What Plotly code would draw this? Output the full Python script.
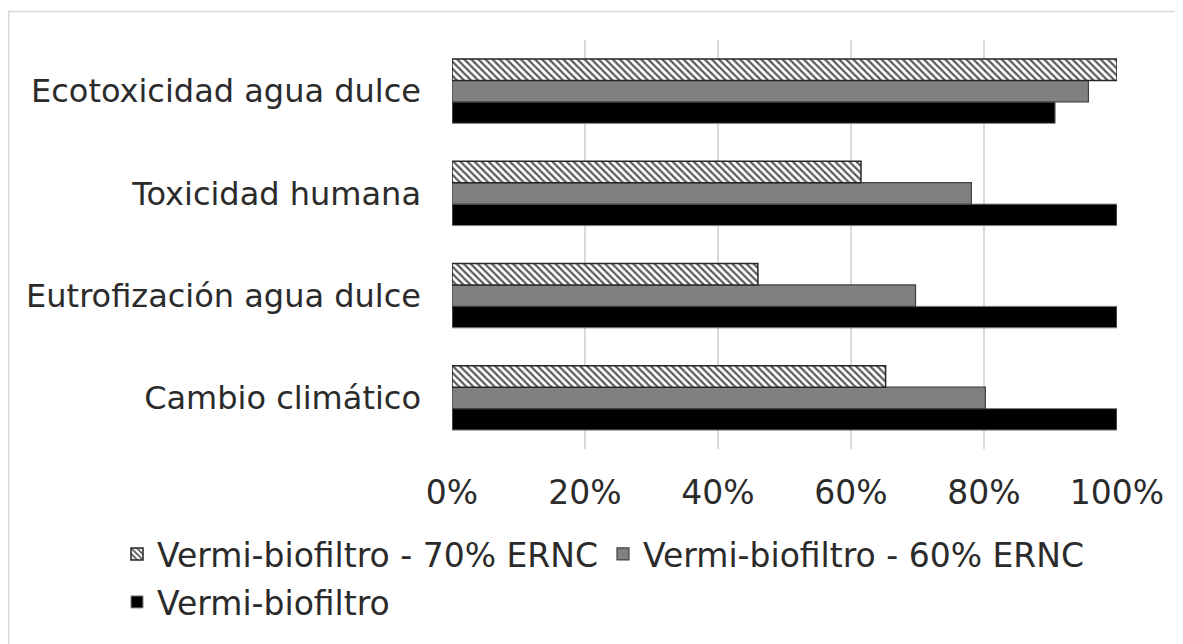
import plotly.graph_objects as go

categories = ["Cambio climático", "Eutrofización agua dulce", "Toxicidad humana", "Ecotoxicidad agua dulce"]
base_vals = [1.00, 1.00, 1.00, 0.907]
ernc60_vals = [0.802, 0.697, 0.781, 0.957]
ernc70_vals = [0.652, 0.460, 0.615, 1.00]
series_names = ["Vermi-biofiltro", "Vermi-biofiltro - 60% ERNC", "Vermi-biofiltro - 70% ERNC"]
tick_vals = [0, 0.2, 0.4, 0.6, 0.8, 1.0]
tick_text = ["0%", "20%", "40%", "60%", "80%", "100%"]

FONT = "DejaVu Sans, Verdana, sans-serif"
TXT = "#2b2b2b"

fig = go.Figure()
fig.add_trace(go.Bar(
    y=categories, x=base_vals, name=series_names[0], orientation="h",
    marker=dict(color="#000000", line=dict(color="#7f7f7f", width=1)),
    legend="legend2",
))
fig.add_trace(go.Bar(
    y=categories, x=ernc60_vals, name=series_names[1], orientation="h",
    marker=dict(color="#808080", line=dict(color="#404040", width=1.2)),
    legend="legend",
))
fig.add_trace(go.Bar(
    y=categories, x=ernc70_vals, name=series_names[2], orientation="h",
    marker=dict(color="#ffffff", line=dict(color="#262626", width=1.5),
                pattern=dict(shape="\\", fgcolor="#595959", bgcolor="#ffffff",
                             size=5, solidity=0.45, fillmode="replace")),
    legend="legend",
))

# the page body adds an 8px offset; coordinates below are figure pixels
W, H = 1183, 644
L, R, T, B = 444, 74, 32, 203
pw, ph = W - L - R, H - T - B

def px2paper_x(px):
    return (px - L) / pw

def px2paper_y(py):
    return (H - B - py) / ph

legend_font = dict(family=FONT, size=33, color=TXT)

fig.update_layout(
    width=W, height=H,
    margin=dict(l=L, r=R, t=T, b=B),
    paper_bgcolor="white", plot_bgcolor="white",
    barmode="group", bargap=0.37, bargroupgap=0,
    font=dict(family=FONT, size=32, color=TXT),
    showlegend=True,
    legend=dict(
        orientation="h", traceorder="reversed",
        x=px2paper_x(109), y=px2paper_y(518), xanchor="left", yanchor="top",
        font=legend_font, itemwidth=30, bgcolor="rgba(0,0,0,0)",
    ),
    legend2=dict(
        orientation="h",
        x=px2paper_x(109), y=px2paper_y(566), xanchor="left", yanchor="top",
        font=legend_font, itemwidth=30, bgcolor="rgba(0,0,0,0)",
    ),
    shapes=[dict(
        type="rect", xref="paper", yref="paper",
        x0=px2paper_x(0.75), x1=px2paper_x(1250),
        y0=px2paper_y(700), y1=px2paper_y(3.5),
        line=dict(color="#d9d9d9", width=1.5), fillcolor="rgba(0,0,0,0)", layer="below",
    )],
)
fig.update_xaxes(
    range=[0, 1.0], tickvals=tick_vals, ticktext=tick_text,
    showgrid=True, gridcolor="#d9d9d9", gridwidth=1.5,
    zeroline=False, showline=False, ticks="", ticklabelstandoff=21,
    tickfont=dict(family=FONT, size=33, color=TXT),
)
fig.update_yaxes(
    showgrid=False, zeroline=False, showline=False, ticks="",
    ticklabelstandoff=30,
    tickfont=dict(family=FONT, size=32, color=TXT),
)

fig.write_html("out.html")
